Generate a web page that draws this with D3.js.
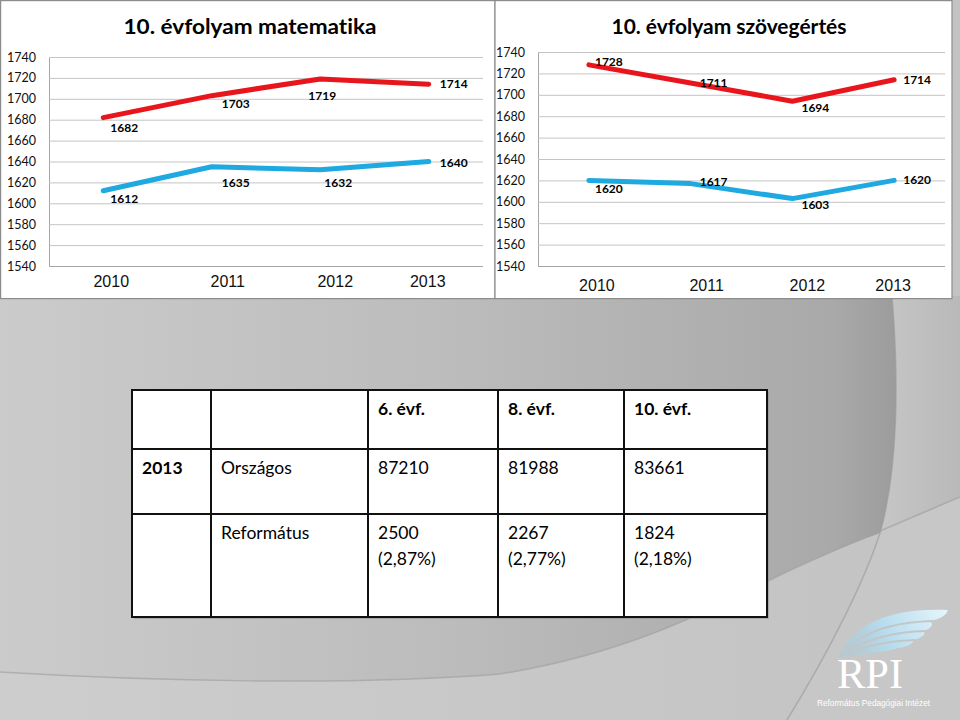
<!DOCTYPE html>
<html><head><meta charset="utf-8">
<script src="https://cdn.jsdelivr.net/npm/d3@7"></script>
<style>html,body{margin:0;padding:0;background:#c4c4c4;}svg{display:block;}text{font-variant-ligatures:none;}</style>
</head><body>
<svg id="slide" width="960" height="720"></svg>
<script>
// ---------- DATA ----------
const years = ["2010", "2011", "2012", "2013"];
const mathTop = [1682, 1703, 1719, 1714];
const mathBottom = [1612, 1635, 1632, 1640];
const readTop = [1728, 1711, 1694, 1714];
const readBottom = [1620, 1617, 1603, 1620];
const yTickValues = [1540, 1560, 1580, 1600, 1620, 1640, 1660, 1680, 1700, 1720, 1740];
const chartTitles = ["10. évfolyam matematika", "10. évfolyam szövegértés"];

const tableHeader = ["", "", "6. évf.", "8. évf.", "10. évf."];
const tableYear = "2013";
const rowLabels = ["Országos", "Református"];
const orszagos = [87210, 81988, 83661];
const reformatus = [2500, 2267, 1824];
const reformatusPct = ["2,87%", "2,77%", "2,18%"];

// ---------- LAYOUT (label nudges relative to points) ----------
const mathTopNudge = [[21, 14], [24, 12], [2, 21], [25, 4]];
const mathBottomNudge = [[21, 12], [24, 20], [18, 17], [25, 5]];
const readTopNudge = [[20, 1], [23, 4], [23, 11], [23, 4]];
const readBottomNudge = [[20, 13], [23, 2], [23, 10], [23, 4]];
const xLabelNudge = [8, 16, 15, -1];

const RED = "#e8161c", BLUE = "#1ea9e1";
const svg = d3.select("#slide");
const defs = svg.append("defs");

// ---------- BACKGROUND ----------
const gDark = defs.append("linearGradient").attr("id", "gDark").attr("x1", 0).attr("x2", 1).attr("y1", 0).attr("y2", 0);
gDark.append("stop").attr("offset", 0).attr("stop-color", "#cbcbcb");
gDark.append("stop").attr("offset", 0.5).attr("stop-color", "#bcbcbc");
gDark.append("stop").attr("offset", 0.93).attr("stop-color", "#a9a9a9");
gDark.append("stop").attr("offset", 1).attr("stop-color", "#9c9c9c");
const gRight = defs.append("linearGradient").attr("id", "gRight").attr("x1", 0).attr("x2", 1).attr("y1", 0).attr("y2", 0);
gRight.append("stop").attr("offset", 0).attr("stop-color", "#c6c6c6");
gRight.append("stop").attr("offset", 1).attr("stop-color", "#b9b9b9");
const gBottom = defs.append("linearGradient").attr("id", "gBottom").attr("x1", 0).attr("x2", 1).attr("y1", 0).attr("y2", 0);
gBottom.append("stop").attr("offset", 0).attr("stop-color", "#cdcdcd");
gBottom.append("stop").attr("offset", 1).attr("stop-color", "#c3c3c3");

svg.append("rect").attr("width", 960).attr("height", 720).attr("fill", "url(#gBottom)");
svg.append("path").attr("d", "M892,296 L960,296 L960,497 L880,533 C898,470 899,380 892,296 Z").attr("fill", "url(#gRight)");
svg.append("path").attr("d", "M960,497 L960,720 L787,720 C830,650 865,580 880,533 Z").attr("fill", "#c7c7c7");
svg.append("path")
  .attr("d", "M0,296 L892,296 C899,380 898,470 880,533 C830,552 800,565 770,580 C700,615 620,655 500,674 C350,686 150,681 0,672 Z")
  .attr("fill", "url(#gDark)");
svg.append("path")
  .attr("d", "M0,672 C150,681 350,686 500,674 C620,655 700,615 770,580 C800,565 830,552 960,497")
  .attr("fill", "none").attr("stroke", "#a2a2a2").attr("stroke-width", 1.5).attr("opacity", 0.7);
svg.append("path")
  .attr("d", "M892,296 C899,380 898,470 880,533 C865,580 830,650 787,720")
  .attr("fill", "none").attr("stroke", "#9a9a9a").attr("stroke-width", 1.5).attr("opacity", 0.6);

// ---------- CHARTS ----------
function drawChart(cfg) {
  const g = svg.append("g");
  g.append("rect").attr("x", cfg.px).attr("y", cfg.py).attr("width", cfg.pw).attr("height", cfg.ph)
    .attr("fill", "#ffffff").attr("stroke", "#8c8c8c").attr("stroke-width", 1.2);
  g.append("text").attr("x", cfg.titleX).attr("y", 34).attr("text-anchor", "middle")
    .attr("font-family", "Lato, 'Open Sans', sans-serif").attr("font-weight", 700).attr("font-size", 21)
    .attr("textLength", cfg.titleLen).attr("lengthAdjust", "spacingAndGlyphs")
    .attr("fill", "#000").text(cfg.title);

  const x = d3.scaleBand().domain(years).range([cfg.x0, cfg.x1]).padding(0);
  const y = d3.scaleLinear().domain([1540, 1740]).range([cfg.yb, cfg.yt]);
  const cx = d => x(d) + x.bandwidth() / 2;

  const yAxis = d3.axisLeft(y).tickValues(yTickValues).tickSize(-(cfg.x1 - cfg.x0)).tickPadding(13).tickFormat(d3.format("d"));
  const ya = g.append("g").attr("transform", `translate(${cfg.x0},0)`).call(yAxis);
  ya.select(".domain").attr("stroke", "#a6a6a6").attr("stroke-width", 1);
  ya.selectAll(".tick line").attr("stroke", d => d === 1540 ? "#a6a6a6" : "#c4c4c4").attr("stroke-width", 1);
  ya.selectAll(".tick text").attr("font-family", "Lato, sans-serif").attr("font-size", 12.5).attr("fill", "#111");

  const xAxis = d3.axisBottom(x).tickSize(0).tickPadding(0);
  const xa = g.append("g").attr("transform", `translate(0,${cfg.xLabelY})`).call(xAxis);
  xa.select(".domain").remove();
  xa.selectAll(".tick text").attr("font-family", "'Liberation Sans', Arial, sans-serif").attr("font-size", 16)
    .attr("fill", "#111").attr("dy", 0).attr("dominant-baseline", "alphabetic")
    .attr("x", (d, i) => xLabelNudge[i]);

  const line = d3.line().x((d, i) => cx(years[i])).y(d => y(d));
  [[cfg.top, RED, cfg.topNudge], [cfg.bottom, BLUE, cfg.bottomNudge]].forEach(([vals, col, nudge]) => {
    g.append("path").datum(vals).attr("d", line).attr("fill", "none").attr("stroke", col)
      .attr("stroke-width", 5).attr("stroke-linecap", "round").attr("stroke-linejoin", "round");
    g.selectAll(null).data(vals).enter().append("text")
      .attr("x", (d, i) => cx(years[i]) + nudge[i][0])
      .attr("y", (d, i) => y(d) + nudge[i][1])
      .attr("text-anchor", "middle").attr("font-family", "Lato, sans-serif").attr("font-weight", 700)
      .attr("font-size", 12).attr("fill", "#000").text(d => d);
  });
}

drawChart({ px: 0.6, py: 0.6, pw: 494.4, ph: 298, titleX: 250, titleLen: 253, title: chartTitles[0],
  x0: 49, x1: 483, yt: 57, yb: 266, xLabelY: 287,
  top: mathTop, bottom: mathBottom, topNudge: mathTopNudge, bottomNudge: mathBottomNudge });
drawChart({ px: 495, py: 0.6, pw: 457, ph: 298, titleX: 729, titleLen: 235, title: chartTitles[1],
  x0: 538, x1: 945, yt: 52, yb: 266, xLabelY: 291,
  top: readTop, bottom: readBottom, topNudge: readTopNudge, bottomNudge: readBottomNudge });

// ---------- TABLE ----------
const colEdges = [132, 211, 368, 498, 624, 767];
const rowEdges = [390, 449, 514, 617];
const tg = svg.append("g");
tg.append("rect").attr("x", colEdges[0] + 2).attr("y", rowEdges[0] + 2)
  .attr("width", colEdges[5] - colEdges[0]).attr("height", rowEdges[3] - rowEdges[0]).attr("fill", "#8a8a8a").attr("opacity", 0.5);
tg.append("rect").attr("x", colEdges[0]).attr("y", rowEdges[0])
  .attr("width", colEdges[5] - colEdges[0]).attr("height", rowEdges[3] - rowEdges[0]).attr("fill", "#fff");
tg.selectAll(null).data(colEdges).enter().append("line")
  .attr("x1", d => d).attr("x2", d => d).attr("y1", rowEdges[0]).attr("y2", rowEdges[3])
  .attr("stroke", "#111").attr("stroke-width", 2);
tg.selectAll(null).data(rowEdges).enter().append("line")
  .attr("y1", d => d).attr("y2", d => d).attr("x1", colEdges[0] - 1).attr("x2", colEdges[5] + 1)
  .attr("stroke", "#111").attr("stroke-width", 2);

const cellText = (col, baseline, txt, bold) => tg.append("text")
  .attr("x", colEdges[col] + 10).attr("y", baseline)
  .attr("font-family", "Lato, 'Open Sans', sans-serif").attr("font-size", 17.5)
  .attr("font-weight", bold ? 700 : 400).attr("fill", "#000").text(txt);

tableHeader.forEach((h, i) => { if (h) cellText(i, 415, h, true); });
cellText(0, 474, tableYear, true);
cellText(1, 474, rowLabels[0], false);
orszagos.forEach((v, i) => cellText(i + 2, 474, String(v), false));
cellText(1, 539, rowLabels[1], false);
reformatus.forEach((v, i) => cellText(i + 2, 539, String(v), false));
reformatusPct.forEach((v, i) => cellText(i + 2, 565, "(" + v + ")", false));

// ---------- LOGO ----------
const gWing = defs.append("linearGradient").attr("id", "gWing").attr("gradientUnits", "userSpaceOnUse")
  .attr("x1", 840).attr("y1", 658).attr("x2", 948).attr("y2", 610);
gWing.append("stop").attr("offset", 0).attr("stop-color", "#9fc8db").attr("stop-opacity", 0.35);
gWing.append("stop").attr("offset", 0.45).attr("stop-color", "#b7ddee");
gWing.append("stop").attr("offset", 1).attr("stop-color", "#e6f5fb");
const lg = svg.append("g");
lg.append("path")
  .attr("d", "M838,658 C848,632 878,607 948,610 C946,616 940,619 930,621 C934,624 932,628 924,631 C926,634 922,638 913,640 C914,643 908,647 898,648 C888,652 860,654 838,658 Z")
  .attr("fill", "url(#gWing)");
const gaps = [
  "M858,640 C876,628 900,622 932,621",
  "M852,648 C872,638 895,632 925,631",
  "M848,653 C866,646 888,641 914,640"
];
lg.selectAll(null).data(gaps).enter().append("path").attr("d", d => d)
  .attr("fill", "none").attr("stroke", "#c3c6c8").attr("stroke-width", 1.8).attr("stroke-linecap", "round");
lg.append("text").attr("x", 837).attr("y", 688).attr("font-family", "'Liberation Serif', 'DejaVu Serif', serif")
  .attr("font-size", 42).attr("fill", "#ffffff").attr("textLength", 66).attr("lengthAdjust", "spacingAndGlyphs").text("RPI");
lg.append("text").attr("x", 817).attr("y", 706).attr("font-family", "'Liberation Sans Narrow', 'Liberation Sans', sans-serif")
  .attr("font-size", 9).attr("fill", "#ffffff").attr("textLength", 113).attr("lengthAdjust", "spacingAndGlyphs")
  .text("Református Pedagógiai Intézet");
</script>
</body></html>
